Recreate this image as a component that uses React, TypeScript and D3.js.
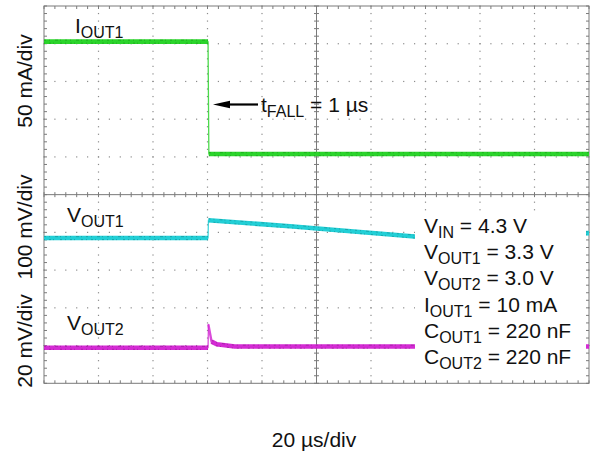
import React from "react";
import * as d3 from "d3";

// ---- data (time in µs, values per channel) ----
const iout1Time = [0, 60.2, 60.5, 200];
const iout1mA = [159, 159, 10, 10];

const vout1Time = [0, 60.2, 60.35, 90.3, 136, 200];
const vout1mV = [0, 0, 47, 31, 4, 13]; // deviation from 3.3 V

const vout2Time = [0, 60.2, 60.35, 61.5, 63.4, 70, 200];
const vout2mV = [0, 0, 12, 3.2, 1.8, 0.6, 0.6]; // deviation from 3.0 V

const condLines = [
  ["V", "IN", " = 4.3 V"],
  ["V", "OUT1", " = 3.3 V"],
  ["V", "OUT2", " = 3.0 V"],
  ["I", "OUT1", " = 10 mA"],
  ["C", "OUT1", " = 220 nF"],
  ["C", "OUT2", " = 220 nF"],
];

const W = 595, H = 454;
const X0 = 44, X1 = 589, Y0 = 6, Y1 = 383.3;
const FONT = "'Liberation Sans', Arial, Helvetica, sans-serif";

const x = d3.scaleLinear().domain([0, 200]).range([X0, X1]);
const div = d3.scaleLinear().domain([0, 10]).range([Y1, Y0]);

const ch = {
  i1: { off: 5.877, per: 50 },
  v1: { off: 3.851, per: 100 },
  v2: { off: 0.9435, per: 20 },
};

function Trace({ t, v, c, color, dark }: any) {
  const pts: [number, number][] = t.map((tt: number, i: number) => [x(tt), div(c.off + v[i] / c.per)]);
  const line = d3.line();
  const thick: [number, number][][] = [];
  const thin: { s: [number, number][]; w: number }[] = [];
  let cur: [number, number][] = [pts[0]];
  for (let i = 1; i < pts.length; i++) {
    const dx = pts[i][0] - pts[i - 1][0];
    const dy = Math.abs(pts[i][1] - pts[i - 1][1]);
    if (dx < 1.5 || dy / dx > 2) {
      thin.push({ s: [pts[i - 1], pts[i]], w: dx < 1.5 ? 1.3 : 2.4 });
      if (cur.length > 1) thick.push(cur);
      cur = [pts[i]];
    } else {
      cur.push(pts[i]);
    }
  }
  if (cur.length > 1) thick.push(cur);
  return (
    <g>
      {thin.map((s, i) => (
        <path key={"n" + i} d={line(s.s) || ""} stroke={color} strokeWidth={s.w} fill="none" opacity={0.85} strokeLinecap="round" />
      ))}
      {thick.map((s, i) => (
        <g key={"k" + i}>
          <path d={line(s) || ""} stroke={color} strokeWidth={4.6} fill="none" strokeLinejoin="round" />
          <path d={line(s) || ""} stroke={dark} strokeWidth={0.9} fill="none" strokeDasharray="2 3 1 5 3 2 1 4" opacity={0.55} transform="translate(0,-1.4)" />
          <path d={line(s) || ""} stroke={dark} strokeWidth={0.9} fill="none" strokeDasharray="1 4 2 2 1 6 2 3" opacity={0.55} transform="translate(0,1.6)" />
        </g>
      ))}
    </g>
  );
}

export default function App() {
  const majorX = d3.range(0, 11).map((i) => X0 + (i * (X1 - X0)) / 10);
  const majorY = d3.range(0, 11).map((i) => Y0 + (i * (Y1 - Y0)) / 10);
  const minorX = d3.range(0, 51).map((i) => X0 + (i * (X1 - X0)) / 50);
  const minorY = d3.range(0, 51).map((i) => Y0 + (i * (Y1 - Y0)) / 50);
  const cx = majorX[5], cy = majorY[5];
  const frame = "#7a7a7a";
  const dot = "#8c8c8c";

  const dots: JSX.Element[] = [];
  majorX.slice(1, 10).forEach((gx, i) => {
    if (i === 4) return;
    minorY.forEach((my, j) => dots.push(<rect key={`vx${i}-${j}`} x={gx - 0.6} y={my - 0.6} width={1.2} height={1.2} fill={dot} />));
  });
  majorY.slice(1, 10).forEach((gy, i) => {
    if (i === 4) return;
    minorX.forEach((mx, j) => dots.push(<rect key={`hy${i}-${j}`} x={mx - 0.6} y={gy - 0.6} width={1.2} height={1.2} fill={dot} />));
  });

  const ticks: JSX.Element[] = [];
  minorX.forEach((mx, j) => {
    ticks.push(<line key={`tt${j}`} x1={mx} x2={mx} y1={Y0} y2={Y0 + 3} stroke={frame} />);
    ticks.push(<line key={`tb${j}`} x1={mx} x2={mx} y1={Y1} y2={Y1 - 3} stroke={frame} />);
    ticks.push(<line key={`tc${j}`} x1={mx} x2={mx} y1={cy - 2.5} y2={cy + 2.5} stroke={frame} />);
  });
  minorY.forEach((my, j) => {
    ticks.push(<line key={`tl${j}`} y1={my} y2={my} x1={X0} x2={X0 + 3} stroke={frame} />);
    ticks.push(<line key={`tr${j}`} y1={my} y2={my} x1={X1} x2={X1 - 3} stroke={frame} />);
    ticks.push(<line key={`tm${j}`} y1={my} y2={my} x1={cx - 2.5} x2={cx + 2.5} stroke={frame} />);
  });

  const sub = (base: string, s: string, rest: string, px: number, py: number, key: string) => (
    <text key={key} x={px} y={py} fontFamily={FONT} fontSize={21} fill="#111">
      {base}
      <tspan fontSize={16} dy={5}>{s}</tspan>
      <tspan dy={-5}>{rest}</tspan>
    </text>
  );

  return (
    <svg width={W} height={H} style={{ position: "absolute", left: 0, top: 0, background: "#fff" }}>
      <rect x={0} y={0} width={W} height={H} fill="#fff" />
      {dots}
      <line x1={cx} x2={cx} y1={Y0} y2={Y1} stroke={frame} />
      <line x1={X0} x2={X1} y1={cy} y2={cy} stroke={frame} />
      {ticks}
      <rect x={X0} y={Y0} width={X1 - X0} height={Y1 - Y0} fill="none" stroke={frame} />

      <Trace t={iout1Time} v={iout1mA} c={ch.i1} color="#2bd42b" dark="#128a12" />
      <Trace t={vout1Time} v={vout1mV} c={ch.v1} color="#22cfd6" dark="#0e7a80" />
      <Trace t={vout2Time} v={vout2mV} c={ch.v2} color="#d42bd4" dark="#7a187a" />

      {/* conditions box */}
      <rect x={415} y={216} width={171} height={162} fill="#fff" />
      {condLines.map((l, i) => sub(l[0], l[1], l[2], 424, 233 + i * 26.2, "c" + i))}

      {/* trace labels */}
      {sub("I", "OUT1", "", 75, 33, "l1")}
      {sub("V", "OUT1", "", 67, 222, "l2")}
      {sub("V", "OUT2", "", 67, 330, "l3")}

      {/* annotation */}
      <line x1={258} x2={226} y1={104.5} y2={104.5} stroke="#000" strokeWidth={2.2} />
      <path d={`M213,104.5 L230,100.8 L230,108.2 Z`} fill="#000" />
      {sub("t", "FALL", " = 1 µs", 261, 112, "ann")}

      {/* axis labels */}
      {[
        ["50 mA/div", 81],
        ["100 mV/div", 227],
        ["20 mV/div", 341],
      ].map(([t, cyy]) => (
        <text key={t as string} transform={`translate(32,${cyy}) rotate(-90)`} textAnchor="middle" fontFamily={FONT} fontSize={21} fill="#111">
          {t}
        </text>
      ))}
      <text x={314} y={447} textAnchor="middle" fontFamily={FONT} fontSize={21} fill="#111">
        20 µs/div
      </text>
    </svg>
  );
}
